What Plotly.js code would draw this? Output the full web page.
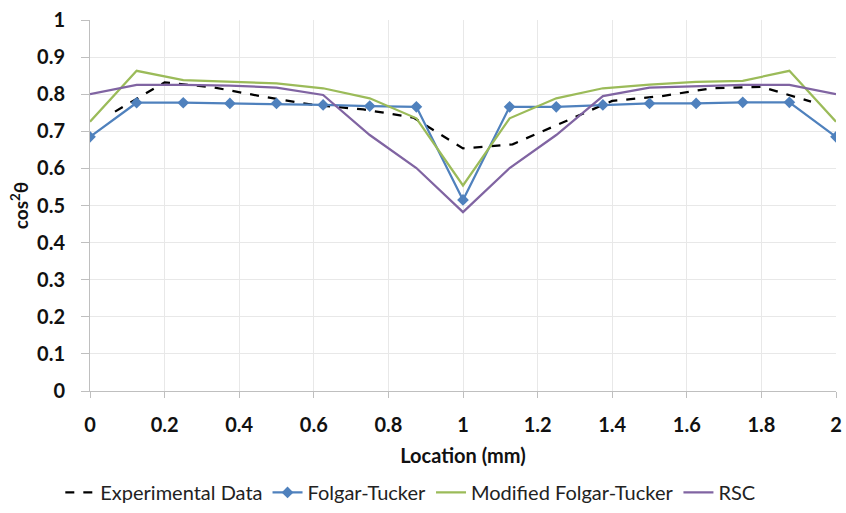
<!DOCTYPE html>
<html>
<head>
<meta charset="utf-8">
<script src="https://cdn.plot.ly/plotly-3.0.1.min.js"></script>
<style>html,body{margin:0;padding:0;background:#fff;}#chart{width:846px;height:513px;}</style>
</head>
<body>
<div id="chart"></div>
<script>
// Model locations (mm)
const modelX = [0, 0.125, 0.25, 0.375, 0.5, 0.625, 0.75, 0.875, 1, 1.125, 1.25, 1.375, 1.5, 1.625, 1.75, 1.875, 2];
// Experimental locations (mm)
const expX = [0.067, 0.2, 0.333, 0.467, 0.6, 0.733, 0.867, 1.0, 1.133, 1.267, 1.4, 1.533, 1.667, 1.8, 1.933];

const experimental = [0.753, 0.832, 0.818, 0.793, 0.771, 0.759, 0.737, 0.654, 0.665, 0.723, 0.782, 0.795, 0.816, 0.82, 0.78];
const folgarTucker = [0.685, 0.777, 0.777, 0.775, 0.775, 0.771, 0.768, 0.766, 0.515, 0.766, 0.766, 0.771, 0.775, 0.775, 0.778, 0.778, 0.685];
const modifiedFT = [0.726, 0.863, 0.838, 0.834, 0.829, 0.816, 0.789, 0.735, 0.554, 0.735, 0.789, 0.816, 0.826, 0.833, 0.836, 0.863, 0.726];
const rsc = [0.8, 0.825, 0.825, 0.823, 0.818, 0.798, 0.69, 0.601, 0.482, 0.601, 0.69, 0.795, 0.818, 0.822, 0.825, 0.825, 0.8];

const xTicks = [0, 0.2, 0.4, 0.6, 0.8, 1, 1.2, 1.4, 1.6, 1.8, 2];
const xTickLabels = ["0", "0.2", "0.4", "0.6", "0.8", "1", "1.2", "1.4", "1.6", "1.8", "2"];
const yTicks = [0, 0.1, 0.2, 0.3, 0.4, 0.5, 0.6, 0.7, 0.8, 0.9, 1];
const yTickLabels = ["0", "0.1", "0.2", "0.3", "0.4", "0.5", "0.6", "0.7", "0.8", "0.9", "1"];

const FONT = "Lato, 'Open Sans', sans-serif";

const traces = [
  {x: expX, y: experimental, name: "Experimental Data", mode: "lines",
   line: {color: "#000000", width: 2.25, dash: "dash"}},
  {x: modelX, y: folgarTucker, name: "Folgar-Tucker", mode: "lines+markers",
   line: {color: "#4F81BD", width: 2.25}, marker: {symbol: "diamond", size: 9, color: "#4F81BD"}},
  {x: modelX, y: modifiedFT, name: "Modified Folgar-Tucker", mode: "lines",
   line: {color: "#9BBB59", width: 2.25}},
  {x: modelX, y: rsc, name: "RSC", mode: "lines",
   line: {color: "#8064A2", width: 2.25}}
];

const layout = {
  width: 846, height: 513,
  margin: {l: 90, r: 10, t: 20, b: 122},
  paper_bgcolor: "#fff", plot_bgcolor: "#fff",
  font: {family: FONT, color: "#000"},
  showlegend: true,
  legend: {orientation: "h", xref: "container", yref: "container",
           x: 0.485, xanchor: "center", y: 0.002, yanchor: "bottom",
           font: {family: FONT, size: 20, color: "#222"}, itemwidth: 30, tracegroupgap: 0},
  xaxis: {
    range: [0, 2], tickmode: "array", tickvals: xTicks, ticktext: xTickLabels,
    automargin: false,
    showgrid: true, gridcolor: "#e8e8e8", gridwidth: 1,
    showline: true, linecolor: "#bfbfbf", linewidth: 1,
    ticks: "outside", ticklen: 6, tickcolor: "#bfbfbf",
    ticklabelstandoff: 10,
    zeroline: false,
    tickfont: {family: FONT, size: 20, color: "#111", weight: "bold"},
    title: {text: "<b>Location (mm)</b>", font: {family: FONT, size: 20, color: "#111"}, standoff: 13}
  },
  yaxis: {
    range: [0, 1], tickmode: "array", tickvals: yTicks, ticktext: yTickLabels,
    automargin: false,
    showgrid: true, gridcolor: "#e8e8e8", gridwidth: 1,
    showline: true, linecolor: "#bfbfbf", linewidth: 1,
    ticks: "outside", ticklen: 8, tickcolor: "#bfbfbf",
    ticklabelstandoff: 12,
    zeroline: false,
    tickfont: {family: FONT, size: 20, color: "#111", weight: "bold"},
    title: {text: "<b>cos<sup>2</sup>θ</b>", font: {family: FONT, size: 19, color: "#111"}, standoff: 3}
  }
};

Plotly.newPlot("chart", traces, layout, {displayModeBar: false, staticPlot: true});
</script>
</body>
</html>
